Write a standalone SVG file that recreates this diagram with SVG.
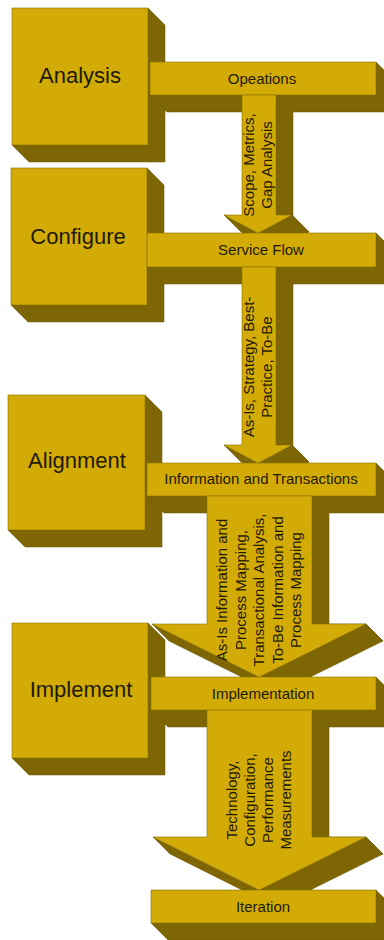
<svg xmlns="http://www.w3.org/2000/svg" width="384" height="940" viewBox="0 0 384 940">
<style>
.f{fill:#D3AB06;stroke:#8C7200;stroke-width:0.6;stroke-linejoin:round}
.d{fill:#7E6605;stroke:#6A5600;stroke-width:0.5;stroke-linejoin:round}
text{font-family:"Liberation Sans",Arial,sans-serif;fill:#1E1A05}
.big{font-size:22px;text-anchor:middle}
.lbl{font-size:15px;text-anchor:middle}
.v{font-size:15px;text-anchor:middle}
</style>
<defs>
<clipPath id="c1" clipPathUnits="userSpaceOnUse"><rect x="0" y="0" width="384" height="233"/></clipPath>
<clipPath id="c2" clipPathUnits="userSpaceOnUse"><rect x="0" y="0" width="384" height="463"/></clipPath>
<clipPath id="c3" clipPathUnits="userSpaceOnUse"><rect x="0" y="0" width="384" height="677"/></clipPath>
<clipPath id="c4" clipPathUnits="userSpaceOnUse"><rect x="0" y="0" width="384" height="890"/></clipPath>
</defs>
<rect width="384" height="940" fill="#FFFFFF"/>

<g id="analysis">
<polygon class="d" points="148,8 165,25 165,162 29,162 12,145 148,145"/>
<rect class="f" x="12" y="8" width="136" height="137"/>
<text class="big" x="80" y="83">Analysis</text>
</g>
<g id="configure">
<polygon class="d" points="147,168 164,185 164,322 28,322 11,305 147,305"/>
<rect class="f" x="11" y="168" width="136" height="137"/>
<text class="big" x="78" y="244">Configure</text>
</g>
<g id="alignment">
<polygon class="d" points="145,395 162,412 162,547 25,547 8,530 145,530"/>
<rect class="f" x="8" y="395" width="137" height="135"/>
<text class="big" x="77" y="468">Alignment</text>
</g>
<g id="implement">
<polygon class="d" points="148,623 165,640 165,775 29,775 12,758 148,758"/>
<rect class="f" x="12" y="623" width="136" height="135"/>
<text class="big" x="81" y="697">Implement</text>
</g>

<g id="operations">
<polygon class="d" points="376,62 393,79 393,112 167,112 150,95 376,95"/>
<rect class="f" x="150" y="62" width="226" height="33"/>
<text class="lbl" x="262" y="84">Opeations</text>
</g>
<g id="service-flow">
<polygon class="d" points="376,233 393,250 393,284 164,284 147,267 376,267"/>
<rect class="f" x="147" y="233" width="229" height="34"/>
<text class="lbl" x="261" y="255">Service Flow</text>
</g>
<g id="information-transactions">
<polygon class="d" points="376,463 393,480 393,513 164,513 147,496 376,496"/>
<rect class="f" x="147" y="463" width="229" height="33"/>
<text class="lbl" x="261" y="484">Information and Transactions</text>
</g>
<g id="implementation">
<polygon class="d" points="376,677 393,694 393,727 168,727 151,710 376,710"/>
<rect class="f" x="151" y="677" width="225" height="33"/>
<text class="lbl" x="263" y="699">Implementation</text>
</g>
<g id="iteration">
<polygon class="d" points="376,890 393,907 393,940 168,940 151,923 376,923"/>
<rect class="f" x="151" y="890" width="225" height="33"/>
<text class="lbl" x="263" y="912">Iteration</text>
</g>

<g id="connectors">
<g id="arrow1">
<g clip-path="url(#c1)">
<polygon class="d" points="276,95 293,112 293,232 276,215"/>
<polygon class="d" points="276,215 292,215 309,232 293,232"/>
<polygon class="d" points="292,215 309,232 275,250 258,233"/>
<polygon class="d" points="258,233 275,250 241,232 224,215"/>
</g>
<polygon class="f" points="242,95 276,95 276,215 292,215 258,233 224,215 242,215"/>
<text class="v" transform="translate(0,165) rotate(-90)"><tspan x="0" y="254">Scope, Metrics,</tspan><tspan x="0" y="272">Gap Analysis</tspan></text>
</g>
<g id="arrow2">
<g clip-path="url(#c2)">
<polygon class="d" points="276,267 293,284 293,462 276,445"/>
<polygon class="d" points="276,445 292,445 309,462 293,462"/>
<polygon class="d" points="292,445 309,462 275,480 258,463"/>
<polygon class="d" points="258,463 275,480 241,462 224,445"/>
</g>
<polygon class="f" points="242,267 276,267 276,445 292,445 258,463 224,445 242,445"/>
<text class="v" transform="translate(0,367) rotate(-90)"><tspan x="0" y="254">As-Is, Strategy, Best-</tspan><tspan x="0" y="272">Practice, To-Be</tspan></text>
</g>
<g id="arrow3">
<g clip-path="url(#c3)">
<polygon class="d" points="312,496 329,513 329,641 312,624"/>
<polygon class="d" points="312,624 366,624 383,641 329,641"/>
<polygon class="d" points="366,624 383,641 276,694 259,677"/>
<polygon class="d" points="259,677 276,694 169,641 152,624"/>
</g>
<polygon class="f" points="207,496 312,496 312,624 366,624 259,677 152,624 207,624"/>
<text class="v" transform="translate(0,590) rotate(-90)"><tspan x="0" y="227">As-Is Information and</tspan><tspan x="0" y="245.5">Process Mapping,</tspan><tspan x="0" y="264">Transactional Analysis,</tspan><tspan x="0" y="282.5">To-Be Information and</tspan><tspan x="0" y="301">Process Mapping</tspan></text>
</g>
<g id="arrow4">
<g clip-path="url(#c4)">
<polygon class="d" points="312,710 329,727 329,854 312,837"/>
<polygon class="d" points="312,837 366,837 383,854 329,854"/>
<polygon class="d" points="366,837 383,854 276,907 259,890"/>
<polygon class="d" points="259,890 276,907 170,854 153,837"/>
</g>
<polygon class="f" points="207,710 312,710 312,837 366,837 259,890 153,837 207,837"/>
<text class="v" transform="translate(0,800) rotate(-90)"><tspan x="0" y="237">Technology,</tspan><tspan x="0" y="255">Configuration,</tspan><tspan x="0" y="273">Performance</tspan><tspan x="0" y="291">Measurements</tspan></text>
</g>
</g>
</svg>
